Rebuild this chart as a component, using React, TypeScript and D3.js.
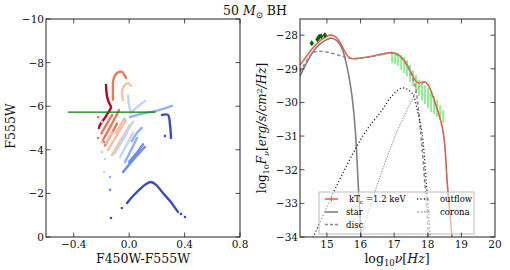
import React from "react";
import * as d3 from "d3";

const W = 510;
const H = 270;
const FONT = "DejaVu Serif, Liberation Serif, serif";

// ---------- Left panel: colour-magnitude tracks ----------
const cmdXTicks = [-0.4, 0.0, 0.4, 0.8];
const cmdYTicks = [-10, -8, -6, -4, -2, 0];
const trackColors = ["#b40426", "#e9785d", "#f4c0a8", "#c3d5f4", "#8fb0fa", "#6a8cec", "#3b4cc0"];

const redTracks = [
  [[-0.167, -6.97], [-0.16, -6.47], [-0.145, -6.15], [-0.131, -5.96], [-0.167, -5.55], [-0.21, -5.14], [-0.218, -5.0]],
];
const salmonTracks = [
  [[-0.117, -6.3], [-0.117, -6.75], [-0.114, -7.2], [-0.088, -7.52], [-0.052, -7.57], [-0.023, -7.29]],
  [[-0.189, -4.45], [-0.145, -4.95], [-0.102, -5.46], [-0.073, -5.83]],
  [[-0.174, -4.2], [-0.13, -4.7], [-0.088, -5.2]],
  [[-0.2, -4.75], [-0.16, -5.2], [-0.122, -5.6]],
];
const peachTracks = [
  [[-0.044, -6.28], [-0.052, -6.65], [-0.037, -6.93], [-0.008, -7.06], [0.013, -6.93]],
  [[-0.153, -3.99], [-0.09, -4.65], [-0.023, -5.37]],
  [[-0.124, -3.76], [-0.06, -4.45], [0.006, -5.14]],
  [[-0.1, -4.75], [-0.065, -5.1], [-0.035, -5.45]],
  [[-0.17, -4.3], [-0.125, -4.8]],
];
const lightBlueTracks = [
  [[-0.008, -6.51], [-0.001, -6.06], [0.013, -5.69]],
  [[0.013, -5.69], [0.057, -5.96], [0.114, -6.24]],
  [[-0.102, -3.85], [-0.06, -4.3], [-0.015, -4.77]],
  [[-0.066, -3.67], [-0.02, -4.2], [0.028, -4.77]],
  [[-0.04, -4.6], [0.0, -5.0], [0.03, -5.3]],
];
const midBlueTracks = [
  [[0.006, -5.5], [0.078, -5.64], [0.151, -5.73], [0.223, -5.83], [0.309, -6.01]],
  [[-0.03, -3.44], [0.015, -4.0], [0.057, -4.54]],
  [[0.02, -4.4], [0.06, -4.8], [0.09, -5.0]],
];
const blueTracks = [
  [[-0.044, -2.98], [0.03, -3.55], [0.114, -4.13]],
  [[0.0, -3.45], [0.06, -3.9], [0.1, -4.25]],
];
const darkBlueTracks = [
  [[0.237, -5.6], [0.28, -5.6], [0.295, -5.14], [0.302, -4.54]],
  [[-0.015, -1.56], [0.028, -1.88], [0.078, -2.2], [0.122, -2.43], [0.158, -2.52], [0.194, -2.39], [0.244, -2.02], [0.295, -1.65], [0.352, -1.15]],
];
const trackGroups = [redTracks, salmonTracks, peachTracks, lightBlueTracks, midBlueTracks, blueTracks, darkBlueTracks];

// isolated points: [colorIndex, x, y]
const cmdDots = [
  [1, -0.225, -5.5], [1, -0.225, -4.54], [1, -0.181, -4.36], [2, -0.196, -5.28],
  [2, -0.196, -4.36], [2, -0.196, -3.9], [3, -0.174, -3.58], [3, -0.181, -2.98],
  [4, -0.138, -2.75], [5, -0.138, -2.16], [6, -0.052, -1.33], [6, -0.131, -0.87],
  [6, 0.374, -1.06], [6, 0.403, -0.92], [6, 0.259, -4.63],
];
const refLineX = [-0.441, 0.19];
const refLineY = -5.73;

// ---------- Right panel: SED ----------
const sedXTicks = [15, 16, 17, 18, 19, 20];
const sedYTicks = [-28, -29, -30, -31, -32, -33, -34];

const totalCurve = [
  [14.2, -28.89], [14.4, -28.62], [14.6, -28.36], [14.8, -28.16], [15.0, -28.03], [15.1, -28.0],
  [15.2, -28.02], [15.35, -28.15], [15.5, -28.42], [15.62, -28.62], [15.75, -28.7], [15.9, -28.69],
  [16.2, -28.65], [16.6, -28.57], [16.95, -28.52], [17.15, -28.6], [17.35, -28.82], [17.5, -29.1],
  [17.62, -29.33], [17.72, -29.42], [17.82, -29.4], [17.92, -29.39], [18.05, -29.55], [18.16, -29.84],
  [18.31, -30.29], [18.43, -30.73], [18.5, -31.2], [18.58, -32.4], [18.65, -33.2], [18.73, -34.1],
];
const starCurve = [
  [14.2, -29.22], [14.4, -28.82], [14.6, -28.48], [14.8, -28.26], [15.0, -28.13], [15.15, -28.09],
  [15.3, -28.17], [15.45, -28.4], [15.6, -28.95], [15.75, -29.84], [15.85, -30.9], [15.93, -32.4],
  [16.02, -34.0], [16.05, -34.5],
];
const discCurve = [
  [14.2, -29.1], [14.4, -28.75], [14.6, -28.52], [14.75, -28.48], [15.0, -28.5], [15.3, -28.58],
  [15.6, -28.67], [15.8, -28.7], [16.2, -28.66], [16.6, -28.58], [16.95, -28.53], [17.15, -28.62],
  [17.35, -28.85], [17.5, -29.15], [17.62, -29.5], [17.7, -30.0], [17.78, -30.8], [17.85, -31.6],
  [17.92, -32.5], [18.0, -33.6], [18.04, -34.3],
];
const outflowCurve = [
  [14.5, -34.2], [14.62, -33.95], [15.0, -33.1], [15.5, -32.05], [16.13, -30.9], [16.64, -30.23],
  [16.94, -29.8], [17.24, -29.57], [17.53, -29.72], [17.71, -30.32], [17.83, -30.91], [17.95, -32.3],
  [18.07, -33.95], [18.1, -34.3],
];
const coronaCurve = [
  [15.95, -34.2], [16.02, -33.95], [16.5, -32.45], [17.03, -31.0], [17.3, -30.4], [17.53, -29.93],
  [17.7, -29.6], [17.86, -29.43], [17.95, -29.4], [18.05, -29.55], [18.16, -29.84], [18.31, -30.29],
  [18.43, -30.73], [18.5, -31.2], [18.58, -32.4], [18.65, -33.2], [18.73, -34.1],
];
const opticalNu = [14.55, 14.72, 14.77, 14.83, 14.94];
const opticalFlux = [-28.24, -28.12, -28.05, -28.03, -28.0];
const opticalErr = [0.05, 0.05, 0.05, 0.05, 0.05];
const xrayNu = [16.94, 17.03, 17.12, 17.21, 17.3, 17.38, 17.47, 17.56, 17.65, 17.74, 17.83, 17.92, 18.01, 18.1, 18.19, 18.28, 18.37, 18.46];
const xrayFlux = [-28.67, -28.68, -28.73, -28.81, -28.89, -28.98, -29.14, -29.28, -29.41, -29.57, -29.66, -29.77, -29.87, -29.99, -30.08, -30.18, -30.3, -30.42];
const xrayErr = [0.16, 0.18, 0.19, 0.22, 0.24, 0.24, 0.25, 0.24, 0.22, 0.24, 0.27, 0.28, 0.3, 0.3, 0.27, 0.25, 0.22, 0.19];

const fmt = (v: number, dec: number) => {
  const s = Math.abs(v).toFixed(dec);
  return (v < 0 ? "\u2212" : "") + s;
};

function Ticks({ x, y, xt, yt }: any) {
  const [x0, x1] = x.range();
  const [y0, y1] = y.range();
  const L = 4.5;
  return (
    <g stroke="#222" strokeWidth={0.8}>
      {xt.map((t: number, i: number) => (
        <g key={"x" + i}>
          <line x1={x(t)} x2={x(t)} y1={y0} y2={y0 - L} />
          <line x1={x(t)} x2={x(t)} y1={y1} y2={y1 + L} />
        </g>
      ))}
      {yt.map((t: number, i: number) => (
        <g key={"y" + i}>
          <line x1={x0} x2={x0 + L} y1={y(t)} y2={y(t)} />
          <line x1={x1} x2={x1 - L} y1={y(t)} y2={y(t)} />
        </g>
      ))}
    </g>
  );
}

export default function App() {
  const lx = d3.scaleLinear().domain([-0.6, 0.8]).range([46, 240]);
  const ly = d3.scaleLinear().domain([0, -10]).range([237, 19]);
  const rx = d3.scaleLinear().domain([14.2, 20]).range([300, 495]);
  const ry = d3.scaleLinear().domain([-34, -27.52]).range([237, 19]);

  const trackLine = d3
    .line<number[]>()
    .x((d) => lx(d[0]))
    .y((d) => ly(d[1]))
    .curve(d3.curveCatmullRom.alpha(0.5));
  const sedLine = d3
    .line<number[]>()
    .x((d) => rx(d[0]))
    .y((d) => ry(d[1]))
    .curve(d3.curveCatmullRom.alpha(0.5));

  const tickStyle = { fontFamily: FONT, fontSize: 10.5, fill: "#111" } as any;
  const labStyle = { fontFamily: FONT, fontSize: 12.5, fill: "#111" } as any;

  return (
    <svg width={W} height={H} style={{ position: "absolute", left: 0, top: 0, background: "#fff" }}>
      <defs>
        <clipPath id="clipL">
          <rect x={46} y={19} width={194} height={218} />
        </clipPath>
        <clipPath id="clipR">
          <rect x={300} y={19} width={195} height={218} />
        </clipPath>
      </defs>
      <rect width={W} height={H} fill="#fff" />

      <text x={255} y={15} textAnchor="middle" style={labStyle}>
        50 <tspan fontStyle="italic">M</tspan>
        <tspan dy={3} fontSize={8.5}>⊙</tspan>
        <tspan dy={-3}> BH</tspan>
      </text>

      {/* ---------------- LEFT PANEL ---------------- */}
      <g clipPath="url(#clipL)">
        {trackGroups.map((grp, gi) =>
          grp.map((pts, ti) => (
            <path
              key={gi + "-" + ti}
              d={trackLine(pts as any) || ""}
              fill="none"
              stroke={trackColors[gi]}
              strokeWidth={2.4}
              strokeLinecap="round"
              strokeLinejoin="round"
            />
          ))
        )}
        {cmdDots.map((d, i) => (
          <circle key={i} cx={lx(d[1])} cy={ly(d[2])} r={1.3} fill={trackColors[d[0]]} />
        ))}
        <line x1={lx(refLineX[0])} x2={lx(refLineX[1])} y1={ly(refLineY)} y2={ly(refLineY)} stroke="#008000" strokeWidth={1.4} />
      </g>
      <rect x={46} y={19} width={194} height={218} fill="none" stroke="#222" strokeWidth={1} />
      <Ticks x={lx} y={ly} xt={cmdXTicks} yt={cmdYTicks} />
      {cmdXTicks.map((t, i) => (
        <text key={i} x={lx(t)} y={248} textAnchor="middle" style={tickStyle}>
          {fmt(t, 1)}
        </text>
      ))}
      {cmdYTicks.map((t, i) => (
        <text key={i} x={44} y={ly(t) + 4} textAnchor="end" style={tickStyle}>
          {fmt(t, 0)}
        </text>
      ))}
      <text x={143} y={263} textAnchor="middle" style={labStyle}>
        F450W-F555W
      </text>
      <text transform="translate(15,126) rotate(-90)" textAnchor="middle" style={labStyle}>
        F555W
      </text>

      {/* ---------------- RIGHT PANEL ---------------- */}
      <g clipPath="url(#clipR)">
        {xrayNu.map((v, i) => (
          <line
            key={i}
            x1={rx(v)}
            x2={rx(v)}
            y1={ry(xrayFlux[i] - xrayErr[i])}
            y2={ry(xrayFlux[i] + xrayErr[i])}
            stroke="#90ee90"
            strokeWidth={2}
          />
        ))}
        <path d={sedLine(totalCurve as any) || ""} fill="none" stroke="#f0654b" strokeWidth={1.6} />
        <path d={sedLine(starCurve as any) || ""} fill="none" stroke="#808080" strokeWidth={1.6} />
        <path d={sedLine(discCurve as any) || ""} fill="none" stroke="#8a8a8a" strokeWidth={1.5} strokeDasharray="3.5,2.5" />
        <path d={sedLine(outflowCurve as any) || ""} fill="none" stroke="#222" strokeWidth={1.3} strokeDasharray="1.2,2.2" />
        <path d={sedLine(coronaCurve as any) || ""} fill="none" stroke="#777" strokeWidth={0.9} strokeDasharray="1.3,1.3" />
        {opticalNu.map((v, i) => (
          <g key={i}>
            <line x1={rx(v)} x2={rx(v)} y1={ry(opticalFlux[i] - opticalErr[i])} y2={ry(opticalFlux[i] + opticalErr[i])} stroke="#006400" strokeWidth={1} />
            <path
              d={`M${rx(v)},${ry(opticalFlux[i]) - 3} L${rx(v) + 2.2},${ry(opticalFlux[i])} L${rx(v)},${ry(opticalFlux[i]) + 3} L${rx(v) - 2.2},${ry(opticalFlux[i])} Z`}
              fill="#006400"
            />
          </g>
        ))}
      </g>

      {/* legend */}
      <g style={{ fontFamily: FONT, fontSize: 8.5 }}>
        <rect x={319} y={192} width={155} height={42} fill="#fff" fillOpacity={0.55} stroke="#bbb" strokeWidth={1} />
        <line x1={325} x2={338} y1={199} y2={199} stroke="#f0654b" strokeWidth={1.6} />
        <line x1={331.5} x2={331.5} y1={196.5} y2={201.5} stroke="#f0654b" strokeWidth={1} />
        <text x={349} y={202}>
          kT<tspan dy={2} fontSize={6}>c</tspan>
          <tspan dy={-2}> =1.2 keV</tspan>
        </text>
        <line x1={325} x2={338} y1={212} y2={212} stroke="#808080" strokeWidth={1.6} />
        <text x={346} y={215}>star</text>
        <line x1={325} x2={338} y1={224.5} y2={224.5} stroke="#8a8a8a" strokeWidth={1.5} strokeDasharray="3,2" />
        <text x={346} y={227.5}>disc</text>
        <line x1={417} x2={430} y1={199} y2={199} stroke="#222" strokeWidth={1.3} strokeDasharray="1.2,2.2" />
        <text x={440} y={202}>outflow</text>
        <line x1={417} x2={430} y1={212} y2={212} stroke="#777" strokeWidth={0.9} strokeDasharray="2,1.5" />
        <text x={440} y={215}>corona</text>
      </g>

      <rect x={300} y={19} width={195} height={218} fill="none" stroke="#222" strokeWidth={1} />
      <Ticks x={rx} y={ry} xt={sedXTicks.slice(0, 5)} yt={sedYTicks} />
      {sedXTicks.map((t, i) => (
        <text key={i} x={rx(t)} y={248} textAnchor="middle" style={tickStyle}>
          {t}
        </text>
      ))}
      {sedYTicks.map((t, i) => (
        <text key={i} x={298} y={ry(t) + 4} textAnchor="end" style={tickStyle}>
          {fmt(t, 0)}
        </text>
      ))}
      <text x={397} y={263} textAnchor="middle" style={labStyle}>
        log<tspan dy={3} fontSize={8.5}>10</tspan>
        <tspan dy={-3} fontStyle="italic">ν</tspan>[<tspan fontStyle="italic">Hz</tspan>]
      </text>
      <text transform="translate(266,128) rotate(-90)" textAnchor="middle" style={{ ...labStyle, fontSize: 12 }}>
        log<tspan dy={3} fontSize={8}>10</tspan>
        <tspan dy={-3} fontStyle="italic">F</tspan>
        <tspan dy={3} fontSize={8} fontStyle="italic">ν</tspan>
        <tspan dy={-3}>[</tspan>
        <tspan fontStyle="italic">erg/s/cm</tspan>
        <tspan dy={-4} fontSize={8}>2</tspan>
        <tspan dy={4} fontStyle="italic">/Hz</tspan>]
      </text>
    </svg>
  );
}
